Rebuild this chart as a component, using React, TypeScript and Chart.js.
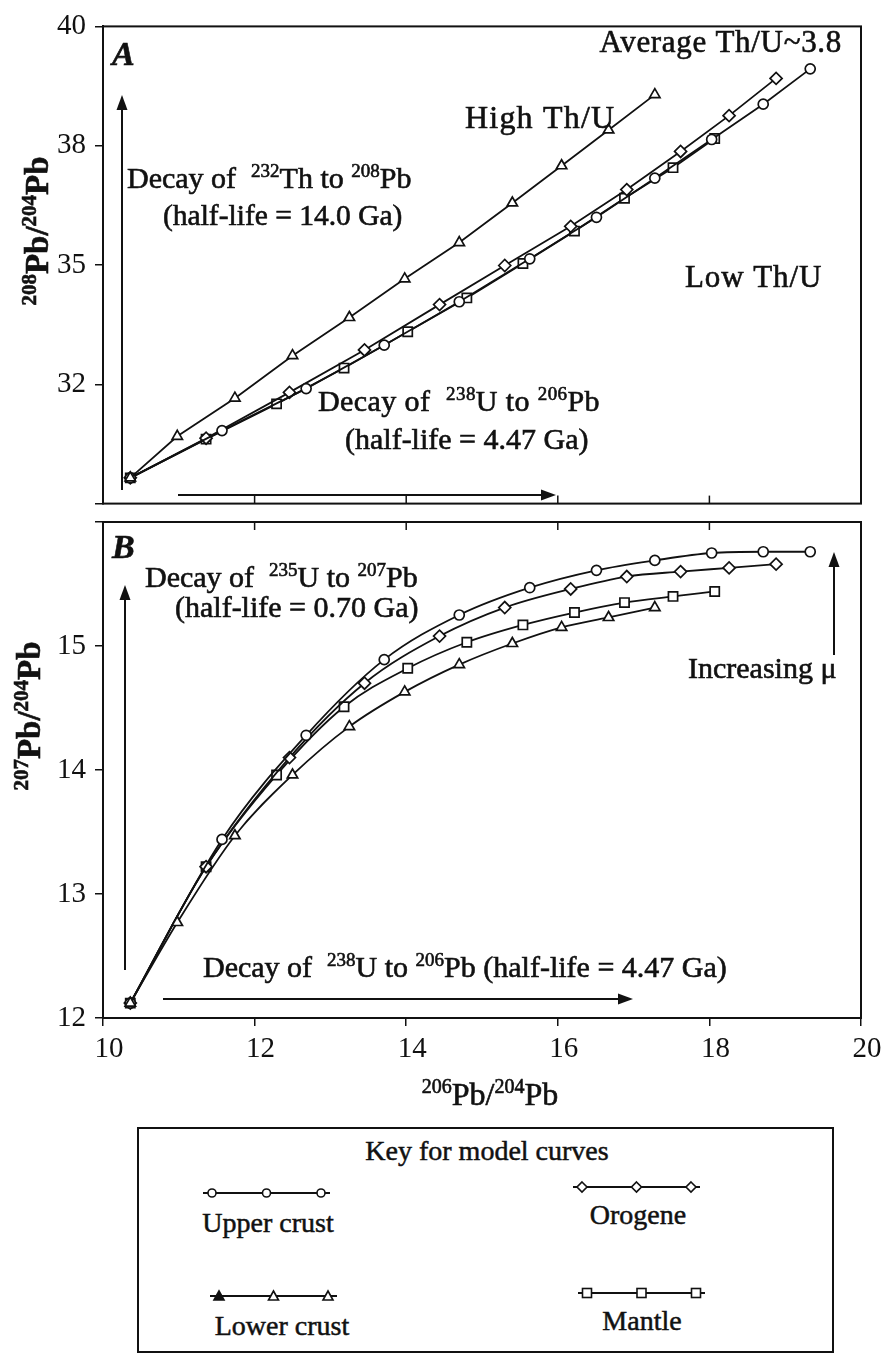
import React, { useEffect, useRef } from "react";
import { Chart, registerables } from "chart.js";

Chart.register(...registerables);

const FONT = '"Liberation Serif", "Times New Roman", Times, serif';

// ---------- axes ----------
const xTickValues = [10, 12, 14, 16, 18, 20];
const yTickValuesA = [40, 37.5, 35, 32.5, 30];
const yTickLabelsA = ["40", "38", "35", "32", ""];
const yTickValuesB = [16, 15, 14, 13, 12];
const yTickLabelsB = ["", "15", "14", "13", "12"];

// ---------- data (206Pb/204Pb, 208Pb/204Pb, 207Pb/204Pb) ----------
const upperCrust206 = [10.36, 11.57, 12.68, 13.71, 14.7, 15.63, 16.51, 17.28, 18.03, 18.71, 19.33];
const upperCrust208 = [30.54, 31.53, 32.41, 33.32, 34.23, 35.13, 36.0, 36.82, 37.63, 38.37, 39.11];
const upperCrust207 = [12.12, 13.44, 14.28, 14.89, 15.25, 15.47, 15.61, 15.69, 15.75, 15.76, 15.76];

const orogene206 = [10.36, 11.36, 12.46, 13.45, 14.44, 15.3, 16.17, 16.91, 17.62, 18.26, 18.88];
const orogene208 = [30.54, 31.37, 32.33, 33.22, 34.17, 34.99, 35.81, 36.58, 37.38, 38.13, 38.91];
const orogene207 = [12.12, 13.22, 14.1, 14.7, 15.08, 15.31, 15.46, 15.56, 15.6, 15.63, 15.66];

const lowerCrust206 = [10.36, 10.98, 11.74, 12.5, 13.25, 13.98, 14.7, 15.4, 16.05, 16.67, 17.28];
const lowerCrust208 = [30.54, 31.41, 32.21, 33.1, 33.9, 34.71, 35.47, 36.3, 37.08, 37.83, 38.57];
const lowerCrust207 = [12.12, 12.77, 13.47, 13.96, 14.35, 14.63, 14.85, 15.02, 15.15, 15.23, 15.31];

const mantle206 = [10.36, 11.36, 12.29, 13.18, 14.02, 14.8, 15.54, 16.22, 16.88, 17.52, 18.07];
const mantle208 = [30.54, 31.35, 32.09, 32.84, 33.6, 34.31, 35.03, 35.71, 36.4, 37.04, 37.65];
const mantle207 = [12.12, 13.22, 13.96, 14.51, 14.82, 15.03, 15.17, 15.27, 15.35, 15.4, 15.44];

type Curve = { name: string; style: string; radius: number; x: number[]; a: number[]; b: number[] };
const curves: Curve[] = [
  { name: "Lower crust", style: "triangle", radius: 6, x: lowerCrust206, a: lowerCrust208, b: lowerCrust207 },
  { name: "Upper crust", style: "circle", radius: 5, x: upperCrust206, a: upperCrust208, b: upperCrust207 },
  { name: "Orogene", style: "rectRot", radius: 6, x: orogene206, a: orogene208, b: orogene207 },
  { name: "Mantle", style: "rect", radius: 6.5, x: mantle206, a: mantle208, b: mantle207 },
];

// ---------- annotations (page coordinates) ----------
type Note = { text: string; x: number; y: number; align: CanvasTextAlign; size: number; font?: string; ls?: number };
const notesA: Note[] = [
  { text: "A", x: 112, y: 65, align: "left", size: 34, font: "italic bold" },
  { text: "Decay of  ^{232}Th to ^{208}Pb", x: 127, y: 188, align: "left", size: 30 },
  { text: "(half-life = 14.0 Ga)", x: 163, y: 225, align: "left", size: 29.5 },
  { text: "Average Th/U~3.8", x: 842, y: 52, align: "right", size: 31, ls: 0.7 },
  { text: "High Th/U", x: 465, y: 128, align: "left", size: 32, ls: 1.2 },
  { text: "Low Th/U", x: 685, y: 287, align: "left", size: 31, ls: 0.9 },
  { text: "Decay of  ^{238}U to ^{206}Pb", x: 318, y: 411, align: "left", size: 30, ls: 0.4 },
  { text: "(half-life = 4.47 Ga)", x: 345, y: 449, align: "left", size: 30 },
];
const notesB: Note[] = [
  { text: "B", x: 112, y: 558, align: "left", size: 34, font: "italic bold" },
  { text: "Decay of  ^{235}U to ^{207}Pb", x: 145, y: 587, align: "left", size: 30 },
  { text: "(half-life = 0.70 Ga)", x: 175, y: 617, align: "left", size: 30 },
  { text: "Increasing \u03bc", x: 688, y: 678, align: "left", size: 30 },
  { text: "Decay of  ^{238}U to ^{206}Pb (half-life = 4.47 Ga)", x: 203, y: 977, align: "left", size: 30 },
];
type Arrow = [number, number, number, number];
const arrowsA: Arrow[] = [
  [122, 490, 122, 95],
  [178, 495, 556, 495],
];
const arrowsB: Arrow[] = [
  [125, 970, 125, 585],
  [163, 999, 633, 999],
  [834, 655, 834, 552],
];

function parseRich(s: string) {
  const out: { t: string; sup: boolean }[] = [];
  const re = /\^\{([^}]*)\}/g;
  let last = 0;
  let m: RegExpExecArray | null;
  while ((m = re.exec(s))) {
    if (m.index > last) out.push({ t: s.slice(last, m.index), sup: false });
    out.push({ t: m[1], sup: true });
    last = re.lastIndex;
  }
  if (last < s.length) out.push({ t: s.slice(last), sup: false });
  return out;
}

function drawRich(
  ctx: CanvasRenderingContext2D,
  s: string,
  x: number,
  y: number,
  size: number,
  align: CanvasTextAlign,
  style = "",
  rotate = false,
  ls = 0
) {
  const segs = parseRich(s);
  const fontOf = (sup: boolean) => `${style} ${sup ? Math.round(size * 0.64) : size}px ${FONT}`;
  ctx.save();
  const anyCtx = ctx as any;
  if ("letterSpacing" in anyCtx) anyCtx.letterSpacing = `${ls}px`;
  const widths = segs.map((sg) => {
    ctx.font = fontOf(sg.sup);
    return ctx.measureText(sg.t).width;
  });
  const total = widths.reduce((p, c) => p + c, 0);
  ctx.translate(x, y);
  if (rotate) ctx.rotate(-Math.PI / 2);
  ctx.textBaseline = "alphabetic";
  ctx.textAlign = "left";
  ctx.fillStyle = "#111";
  ctx.strokeStyle = "#111";
  ctx.lineWidth = 0.6;
  let cx = align === "left" ? 0 : align === "center" ? -total / 2 : -total;
  segs.forEach((sg, i) => {
    ctx.font = fontOf(sg.sup);
    const dy = sg.sup ? -size * 0.36 : 0;
    ctx.fillText(sg.t, cx, dy);
    ctx.strokeText(sg.t, cx, dy);
    cx += widths[i];
  });
  ctx.restore();
}

function drawArrow(ctx: CanvasRenderingContext2D, a: Arrow, off: number) {
  const [x1, y1o, x2, y2o] = a;
  const y1 = y1o - off;
  const y2 = y2o - off;
  const ang = Math.atan2(y2 - y1, x2 - x1);
  const L = 15;
  const W = 5.5;
  ctx.save();
  ctx.strokeStyle = "#111";
  ctx.fillStyle = "#111";
  ctx.lineWidth = 2;
  ctx.beginPath();
  ctx.moveTo(x1, y1);
  ctx.lineTo(x2 - Math.cos(ang) * (L - 2), y2 - Math.sin(ang) * (L - 2));
  ctx.stroke();
  ctx.beginPath();
  ctx.moveTo(x2, y2);
  ctx.lineTo(x2 - Math.cos(ang) * L - Math.sin(ang) * W, y2 - Math.sin(ang) * L + Math.cos(ang) * W);
  ctx.lineTo(x2 - Math.cos(ang) * L + Math.sin(ang) * W, y2 - Math.sin(ang) * L - Math.cos(ang) * W);
  ctx.closePath();
  ctx.fill();
  ctx.restore();
}

function makeDecor(panel: "A" | "B", off: number) {
  return {
    id: "decor" + panel,
    afterDraw(chart: any) {
      const ctx: CanvasRenderingContext2D = chart.ctx;
      const { left, right, top, bottom } = chart.chartArea;
      const xs = chart.scales.x;
      ctx.save();
      ctx.strokeStyle = "#111";
      ctx.lineWidth = 2;
      ctx.strokeRect(left, top, right - left, bottom - top);
      ctx.lineWidth = 1.5;
      xTickValues.slice(1, -1).forEach((v) => {
        const px = xs.getPixelForValue(v);
        ctx.beginPath();
        if (panel === "A") {
          ctx.moveTo(px, bottom);
          ctx.lineTo(px, bottom - 8);
        } else {
          ctx.moveTo(px, top);
          ctx.lineTo(px, top + 8);
        }
        ctx.stroke();
      });
      ctx.restore();
      const notes = panel === "A" ? notesA : notesB;
      notes.forEach((n) => drawRich(ctx, n.text, n.x, n.y - off, n.size, n.align, n.font || "", false, n.ls || 0));
      const arrows = panel === "A" ? arrowsA : arrowsB;
      arrows.forEach((a) => drawArrow(ctx, a, off));
      if (panel === "A") {
        drawRich(ctx, "^{208}Pb/^{204}Pb", 48, 231 - off, 33, "center", "bold", true);
      } else {
        drawRich(ctx, "^{207}Pb/^{204}Pb", 40, 716 - off, 33, "center", "bold", true);
        drawRich(ctx, "^{206}Pb/^{204}Pb", 490, 1105 - off, 32, "center", "");
      }
    },
  };
}

function makeDatasets(panel: "A" | "B") {
  return curves.map((c) => ({
    label: c.name,
    data: c.x.map((xv, i) => ({ x: xv, y: panel === "A" ? c.a[i] : c.b[i] })),
    showLine: true,
    borderColor: "#111",
    borderWidth: 1.8,
    pointStyle: c.style,
    pointRadius: c.radius,
    pointBorderWidth: 1.7,
    pointBackgroundColor: "#fff",
    pointBorderColor: "#111",
    cubicInterpolationMode: panel === "B" ? "monotone" : "default",
    tension: 0,
  }));
}

const tickFont = { family: FONT, size: 29 };

function labelFor(values: number[], labels: string[], v: number) {
  const i = values.findIndex((t) => Math.abs(t - v) < 1e-6);
  return i >= 0 ? labels[i] : "";
}

function configA(): any {
  return {
    type: "scatter",
    data: { datasets: makeDatasets("A") },
    options: {
      animation: false,
      responsive: true,
      maintainAspectRatio: false,
      layout: { padding: { top: 25, right: 25, bottom: 8, left: 0 } },
      plugins: { legend: { display: false }, tooltip: { enabled: false } },
      scales: {
        x: { type: "linear", min: 10, max: 20, display: false },
        y: {
          type: "linear",
          min: 30,
          max: 40,
          afterBuildTicks: (s: any) => {
            s.ticks = yTickValuesA.map((v) => ({ value: v }));
          },
          afterFit: (s: any) => {
            s.width = 103;
          },
          ticks: {
            font: tickFont,
            color: "#111",
            padding: 9,
            callback: (v: number) => labelFor(yTickValuesA, yTickLabelsA, v),
          },
          grid: { drawOnChartArea: false, tickLength: 8, color: "#111", lineWidth: 1.5 },
          border: { display: true, color: "#111", width: 2 },
        },
      },
    },
    plugins: [makeDecor("A", 0)],
  };
}

function configB(): any {
  return {
    type: "scatter",
    data: { datasets: makeDatasets("B") },
    options: {
      animation: false,
      responsive: true,
      maintainAspectRatio: false,
      layout: { padding: { top: 32, right: 25, bottom: 52, left: 0 } },
      plugins: { legend: { display: false }, tooltip: { enabled: false } },
      scales: {
        x: {
          type: "linear",
          min: 10,
          max: 20,
          afterBuildTicks: (s: any) => {
            s.ticks = xTickValues.map((v) => ({ value: v }));
          },
          afterFit: (s: any) => {
            s.height = 60;
          },
          ticks: { font: tickFont, color: "#111", padding: 6, labelOffset: 6, maxRotation: 0, callback: (v: number) => String(v) },
          grid: { drawOnChartArea: false, tickLength: 8, color: "#111", lineWidth: 1.5 },
          border: { display: true, color: "#111", width: 2 },
        },
        y: {
          type: "linear",
          min: 12,
          max: 16,
          afterBuildTicks: (s: any) => {
            s.ticks = yTickValuesB.map((v) => ({ value: v }));
          },
          afterFit: (s: any) => {
            s.width = 103;
          },
          ticks: {
            font: tickFont,
            color: "#111",
            padding: 9,
            callback: (v: number) => labelFor(yTickValuesB, yTickLabelsB, v),
          },
          grid: { drawOnChartArea: false, tickLength: 8, color: "#111", lineWidth: 1.5 },
          border: { display: true, color: "#111", width: 2 },
        },
      },
    },
    plugins: [makeDecor("B", 490)],
  };
}

// ---------- legend ----------
const legendTitle = "Key for model curves";
const legendEntries = [
  { name: "Upper crust", marker: "circle", x1: 203, x2: 330, y: 1193, cx: 268, ty: 1232, filledFirst: false },
  { name: "Orogene", marker: "diamond", x1: 573, x2: 700, y: 1187, cx: 638, ty: 1224, filledFirst: false },
  { name: "Lower crust", marker: "triangle", x1: 210, x2: 337, y: 1296, cx: 282, ty: 1335, filledFirst: true },
  { name: "Mantle", marker: "square", x1: 578, x2: 705, y: 1293, cx: 642, ty: 1330, filledFirst: false },
];

function Marker({ kind, x, y, filled }: { kind: string; x: number; y: number; filled: boolean }) {
  const fill = filled ? "#111" : "#fff";
  const common = { fill, stroke: "#111", strokeWidth: 1.6 };
  if (kind === "circle") return <circle cx={x} cy={y} r={4} {...common} />;
  if (kind === "diamond") return <polygon points={`${x},${y - 5} ${x + 5},${y} ${x},${y + 5} ${x - 5},${y}`} {...common} />;
  if (kind === "triangle") return <polygon points={`${x},${y - 5} ${x + 5},${y + 4} ${x - 5},${y + 4}`} {...common} />;
  return <rect x={x - 4.5} y={y - 4.5} width={9} height={9} {...common} />;
}

function Legend() {
  const top = 1110;
  return (
    <svg width={886} height={259} style={{ position: "absolute", left: 0, top }} viewBox={`0 ${top} 886 259`}>
      <rect x={138} y={1128} width={695} height={224} fill="#fff" stroke="#111" strokeWidth={2} />
      <text x={487} y={1160} textAnchor="middle" fontFamily={FONT} fontSize={28} fill="#111" stroke="#111" strokeWidth={0.5}>
        {legendTitle}
      </text>
      {legendEntries.map((e) => {
        const xs = [e.x1 + 9, (e.x1 + e.x2) / 2, e.x2 - 9];
        return (
          <g key={e.name}>
            <line x1={e.x1} y1={e.y} x2={e.x2} y2={e.y} stroke="#111" strokeWidth={1.8} />
            {xs.map((mx, i) => (
              <Marker key={i} kind={e.marker} x={mx} y={e.y} filled={e.filledFirst && i === 0} />
            ))}
            <text x={e.cx} y={e.ty} textAnchor="middle" fontFamily={FONT} fontSize={28} fill="#111" stroke="#111" strokeWidth={0.5}>
              {e.name}
            </text>
          </g>
        );
      })}
    </svg>
  );
}

export default function App() {
  const refA = useRef<HTMLCanvasElement>(null);
  const refB = useRef<HTMLCanvasElement>(null);
  useEffect(() => {
    const ca = new Chart(refA.current as HTMLCanvasElement, configA());
    const cb = new Chart(refB.current as HTMLCanvasElement, configB());
    return () => {
      ca.destroy();
      cb.destroy();
    };
  }, []);
  return (
    <div style={{ position: "absolute", left: 0, top: 0, width: 886, height: 1369, background: "#fff" }}>
      <div style={{ position: "absolute", left: 0, top: 0, width: 886, height: 530 }}>
        <canvas ref={refA} />
      </div>
      <div style={{ position: "absolute", left: 0, top: 490, width: 886, height: 640 }}>
        <canvas ref={refB} />
      </div>
      <Legend />
    </div>
  );
}
